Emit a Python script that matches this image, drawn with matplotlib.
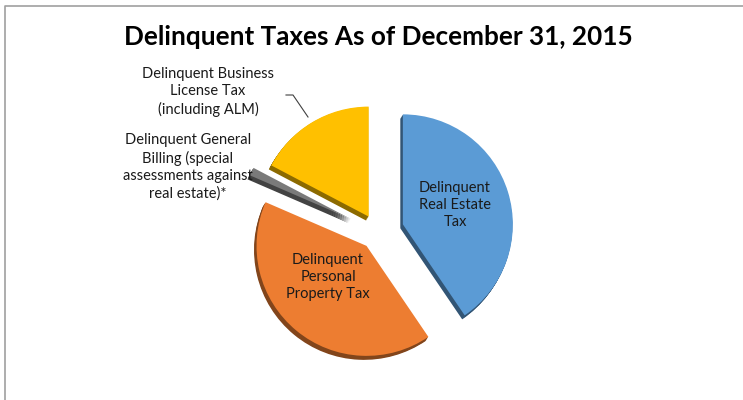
import matplotlib.pyplot as plt
from matplotlib.colors import to_rgb

title = "Delinquent Taxes As of December 31, 2015"
labels = ["Delinquent\nReal Estate\nTax",
          "Delinquent\nPersonal\nProperty Tax",
          "Delinquent General\nBilling (special\nassessments against\nreal estate)*",
          "Delinquent Business\nLicense Tax\n(including ALM)"]
shares = [40.5, 41.0, 1.2, 17.3]
colors = ["#5b9bd5", "#ed7d31", "#7a7a7a", "#ffc000"]
explode = [26, 18, 30, 18]  # pixels (pie explode is absolute)

W, H = 743, 400
fig = plt.figure(figsize=(W / 100, H / 100), dpi=100)
ax = fig.add_axes([0, 0, 1, 1])

plt.rcParams["font.family"] = ["Lato", "DejaVu Sans"]

cx, cy, r = 378, H - 232, 110


def darker(c, f=0.55):
    return tuple(v * f for v in to_rgb(c))


# depth layer under the pie
for k in range(5, 0, -1):
    ax.pie(shares, colors=[darker(c) for c in colors], explode=explode,
           startangle=90, counterclock=False, radius=r,
           center=(cx - 0.5 * k, cy - 0.8 * k), frame=True,
           wedgeprops=dict(linewidth=0))

wedges, _ = ax.pie(shares, colors=colors, explode=explode, startangle=90,
                   counterclock=False, radius=r, center=(cx, cy), frame=True,
                   wedgeprops=dict(linewidth=0))
ax.set_xlim(0, W)
ax.set_ylim(0, H)
ax.set_aspect("equal")
ax.axis("off")

# frame line (top and left only visible)
ax.plot([4.5, 4.5, W + 5], [-5, H - 5.5, H - 5.5], color="#a0a0a0", lw=1.2)

fs = 10.5
ax.text(455, H - 205, labels[0], ha="center", va="center", fontsize=fs,
        color="#1a1a1a", linespacing=1.3)
ax.text(328, H - 277, labels[1], ha="center", va="center", fontsize=fs,
        color="#1a1a1a", linespacing=1.3)
ax.text(188, H - 167, labels[2], ha="center", va="center", fontsize=fs,
        color="#1a1a1a", linespacing=1.3)
ax.text(208, H - 92, labels[3], ha="center", va="center", fontsize=fs,
        color="#1a1a1a", linespacing=1.3)
ax.plot([286, 293, 308], [H - 95, H - 95, H - 117], color="#404040", lw=0.8)

ax.text(378, H - 37, title, ha="center", va="center", fontsize=18.8,
        fontweight="bold", color="black")

fig.savefig("out.png", dpi=100)
